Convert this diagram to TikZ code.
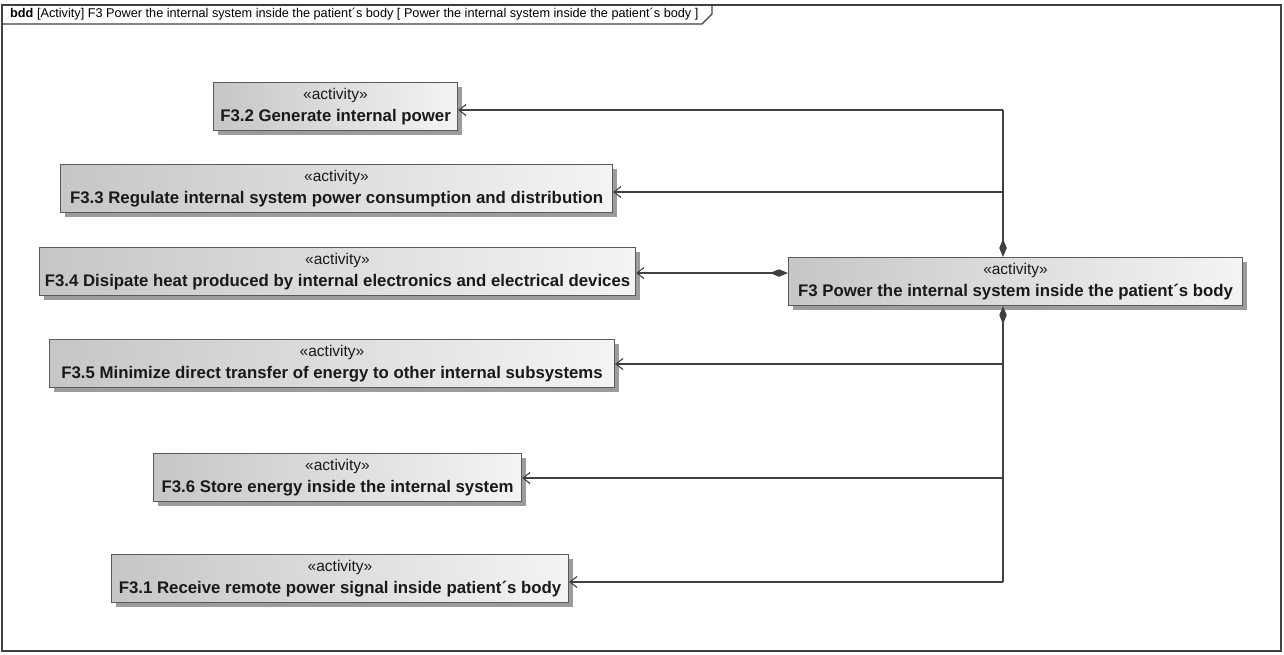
\documentclass[tikz,border=0pt]{standalone}
\usepackage{fontspec}
\setmainfont{Liberation Sans}
\usetikzlibrary{arrows.meta,shadows}

\definecolor{edgegray}{HTML}{5A5A5A}
\definecolor{linegray}{HTML}{404040}
\definecolor{boxleft}{HTML}{C6C6C6}
\definecolor{boxright}{HTML}{F4F4F4}
\definecolor{shadegray}{HTML}{9C9C9C}

\tikzset{
  actbox/.style={draw=edgegray, line width=1.1pt, left color=boxleft, right color=boxright,
    anchor=north west, minimum height=48pt, inner sep=0pt,
    drop shadow={shadow xshift=4pt, shadow yshift=-4pt, fill=shadegray, opacity=1}},
  stereo/.style={font=\fontsize{15.5}{17}\selectfont, inner sep=0pt, text=black!90},
  fname/.style={font=\fontsize{16.8}{19}\selectfont\bfseries, inner sep=0pt, text=black!90},
  barb/.tip={Straight Barb[length=7pt,width=11pt,line width=1.1pt]},
  dmd/.tip={Diamond[length=18pt,width=7.5pt]},
  assoc/.style={draw=linegray, line width=1.4pt, -barb},
  compo/.style={draw=linegray, line width=1.4pt, dmd-},
  compoarr/.style={draw=linegray, line width=1.4pt, dmd-barb},
  frameline/.style={draw=black!75, line width=1.2pt}
}

\begin{document}
\begin{tikzpicture}[x=1pt,y=-1pt]
\useasboundingbox (0,0) rectangle (1284,654);

% diagram frame with its name tab
\draw[frameline] (2,5) rectangle (1281,651);
\draw[frameline] (2,24) -- (702,24) -- (712,14) -- (712,5);
\node[anchor=west, inner sep=0pt, font=\fontsize{12.7}{15}\selectfont] (title) at (10,14.5)
  {\textbf{bdd} [Activity] F3 Power the internal system inside the patient´s body [ Power the internal system inside the patient´s body ]};

% activity blocks
\node[actbox, minimum width=244pt] (a32) at (213,82) {};
\node[actbox, minimum width=552pt] (a33) at (60,164) {};
\node[actbox, minimum width=596pt] (a34) at (39,247) {};
\node[actbox, minimum width=565pt] (a35) at (49,339) {};
\node[actbox, minimum width=368pt] (a36) at (153,453) {};
\node[actbox, minimum width=457pt] (a31) at (111,554) {};
\node[actbox, minimum width=454pt] (f3)  at (788,257) {};

% block texts: stereotype above, bold name below
\foreach \b/\t in {a32/F3.2 Generate internal power,
                   a33/F3.3 Regulate internal system power consumption and distribution,
                   a34/F3.4 Disipate heat produced by internal electronics and electrical devices,
                   a35/F3.5 Minimize direct transfer of energy to other internal subsystems,
                   a36/F3.6 Store energy inside the internal system,
                   a31/F3.1 Receive remote power signal inside patient´s body,
                   f3/F3 Power the internal system inside the patient´s body}{
  \node[stereo] (s\b) at ([yshift=-13pt]\b.north) {«activity»};
  \node[fname]  (t\b) at ([yshift=-35pt]\b.north) {\t};
}

% junction points on the composition trunk
\coordinate (j32) at (1003,110);
\coordinate (j33) at (1003,192);
\coordinate (j35) at (1003,364);
\coordinate (j36) at (1003,478);
\coordinate (j31) at (1003,582);
\coordinate (j34) at (788,273);

% composition trunks leaving the F3 block
\draw[compo] (f3.north -| j32) -- (j32);
\draw[compo] (f3.south -| j31) -- (j31);
\draw[compoarr] (j34) -- (a34.east |- j34);

% branches to the part activities
\draw[assoc] (j32) -- (a32.east |- j32);
\draw[assoc] (j33) -- (a33.east |- j33);
\draw[assoc] (j35) -- (a35.east |- j35);
\draw[assoc] (j36) -- (a36.east |- j36);
\draw[assoc] (j31) -- (a31.east |- j31);
\end{tikzpicture}
\end{document}
